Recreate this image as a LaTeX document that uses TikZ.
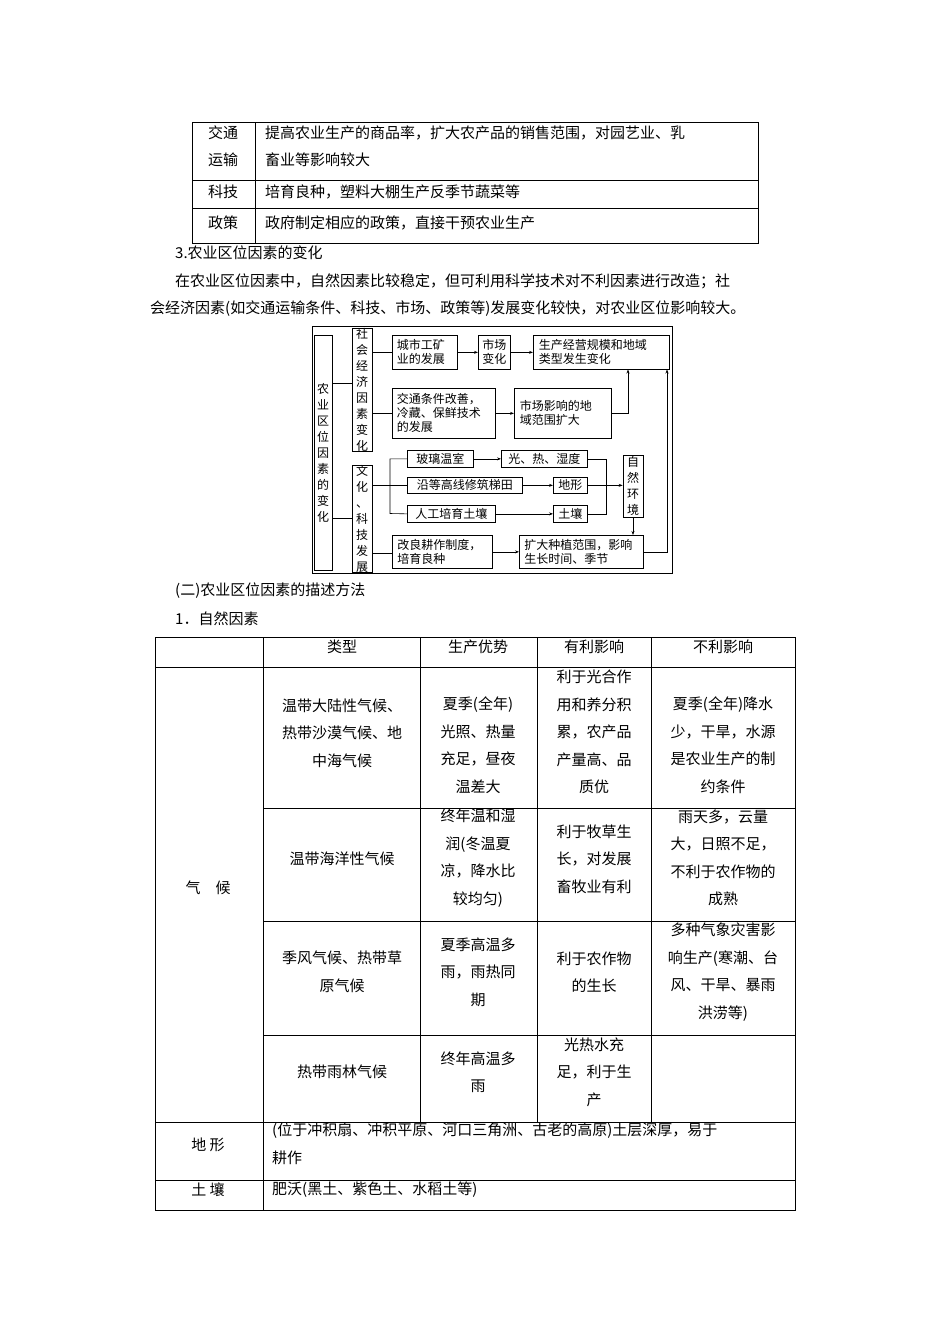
\documentclass[tikz,border=0pt]{standalone}
\usepackage{fontspec}
\setmainfont{Noto Sans CJK SC}
\usetikzlibrary{arrows.meta}
\begin{document}
\begin{tikzpicture}[x=1pt,y=-1pt,
  tl/.style={line width=0.8pt},
  txt/.style={font=\fontsize{15}{27.5}\selectfont, inner sep=0pt},
  cell/.style={txt, align=center},
  fb/.style={draw, line width=0.7pt, inner sep=0pt, font=\fontsize{12}{14}\selectfont, align=left},
  vb/.style={draw, line width=0.7pt, inner sep=0pt, font=\fontsize{12}{16}\selectfont, align=center},
  ar/.style={-{Stealth[length=4pt,width=3pt]}, line width=0.6pt},
  ln/.style={line width=0.6pt}]
\useasboundingbox (0,0) rectangle (950,1344);
% top table
\draw[tl] (192,122) rectangle (758,243);
\draw[tl] (255,122) -- (255,243);
\draw[tl] (192,180) -- (758,180);
\draw[tl] (192,208) -- (758,208);
\node[txt,anchor=west] (a1) at (208,133) {交通};
\node[txt,anchor=west] (a2) at (208,160) {运输};
\node[txt,anchor=west] (a3) at (265,133) {提高农业生产的商品率，扩大农产品的销售范围，对园艺业、乳};
\node[txt,anchor=west] (a4) at (265,160) {畜业等影响较大};
\node[txt,anchor=west] (a5) at (208,192) {科技};
\node[txt,anchor=west] (a6) at (265,192) {培育良种，塑料大棚生产反季节蔬菜等};
\node[txt,anchor=west] (a7) at (208,223) {政策};
\node[txt,anchor=west] (a8) at (265,223) {政府制定相应的政策，直接干预农业生产};
\node[txt,anchor=west] (h1) at (175,253) {3.农业区位因素的变化};
\node[txt,anchor=west] (p1) at (175,281) {在农业区位因素中，自然因素比较稳定，但可利用科学技术对不利因素进行改造；社};
\node[txt,anchor=west] (p2) at (150,309) {会经济因素(如交通运输条件、科技、市场、政策等)发展变化较快，对农业区位影响较大。};
% flowchart
\draw[line width=0.8pt] (312,326) rectangle (672,573);
\node[vb,minimum width=18pt,minimum height=235pt] (L) at (323,452.5) {农\\业\\区\\位\\因\\素\\的\\变\\化};
\node[vb,minimum width=20pt,minimum height=109pt] (S) at (362,389.5) {社\\会\\经\\济\\因\\素\\变\\化};
\node[vb,minimum width=20pt,minimum height=102pt] (W) at (362,519) {文\\化\\、\\科\\技\\发\\展};
\node[fb,minimum width=65pt,minimum height=34pt,anchor=north west,text width=56pt] (c1) at (392,335) {城市工矿\\业的发展};
\node[fb,minimum width=32pt,minimum height=34pt,anchor=north west,align=center] (c2) at (478,335) {市场\\变化};
\node[fb,minimum width=136pt,minimum height=34pt,anchor=north west,text width=125pt] (c3) at (533,335) {生产经营规模和地域\\类型发生变化};
\node[fb,minimum width=103pt,minimum height=50pt,anchor=north west,text width=94pt] (c4) at (392,388) {交通条件改善，\\冷藏、保鲜技术\\的发展};
\node[fb,minimum width=97pt,minimum height=50pt,anchor=north west,text width=86pt] (c5) at (514,388) {市场影响的地\\域范围扩大};
\node[fb,minimum width=66pt,minimum height=17pt,anchor=north west,align=center] (g1) at (407,450) {玻璃温室};
\node[fb,minimum width=86pt,minimum height=17pt,anchor=north west,align=center] (g2) at (501,450) {光、热、湿度};
\node[fb,minimum width=115pt,minimum height=16pt,anchor=north west,align=center] (g3) at (407,477) {沿等高线修筑梯田};
\node[fb,minimum width=34pt,minimum height=16pt,anchor=north west,align=center] (g4) at (553,477) {地形};
\node[fb,minimum width=88pt,minimum height=17pt,anchor=north west,align=center] (g5) at (407,505) {人工培育土壤};
\node[fb,minimum width=34pt,minimum height=17pt,anchor=north west,align=center] (g6) at (553,505) {土壤};
\node[vb,minimum width=20pt,minimum height=62pt] (N) at (633,486) {自\\然\\环\\境};
\node[fb,minimum width=100pt,minimum height=33pt,anchor=north west,text width=90pt] (c6) at (392,535) {改良耕作制度，\\培育良种};
\node[fb,minimum width=124pt,minimum height=33pt,anchor=north west,text width=114pt] (c7) at (519,535) {扩大种植范围，影响\\生长时间、季节};
\coordinate (j1) at (390,458);
\draw[ln] (L.east |- 0,383) -- (S.west |- 0,383);
\draw[ln] (L.east |- 0,518) -- (W.west |- 0,518);
\draw[ln] (S.east |- c1.west) -- (c1.west);
\draw[ln] (S.east |- 0,413) -- (c4.west |- 0,413);
\draw[ar] (c1) -- (c2);
\draw[ar] (c2) -- (c3);
\draw[ar] (c4.east |- c5.west) -- (c5.west);
\draw[ar] (c5.east) -| (628,369.5);
\draw[ln] (W.east |- g3.west) -- (g3.west);
\draw[ln] (g1.west) -| (390,513.5) -- (g5.west);
\draw[ar] (g1) -- (g2);
\draw[ar] (g3) -- (g4);
\draw[ar] (g5) -- (g6);
\draw[ln] (g2.east) -| (606,485) (g6.east) -| (606,485);
\draw[ar] (g4.east) -- (N.west |- g4.east);
\draw[ar] (N.south) -- (N.south |- c7.north);
\draw[ln] (W.east |- 0,553) -- (c6.west |- 0,553);
\draw[ar] (c6.east |- c7.west) -- (c7.west);
\draw[ar] (c7.east) -| (667,369.5);
% headings
\node[txt,anchor=west] (h2) at (175,591) {(二)农业区位因素的描述方法};
\node[txt,anchor=west] (h3) at (175,619) {1．自然因素};
% lower table
\draw[tl] (155,637) rectangle (795,1210);
\draw[tl] (263,637) -- (263,1210);
\foreach \x in {420,537,651} \draw[tl] (\x,637) -- (\x,1122);
\draw[tl] (155,667) -- (795,667);
\foreach \y in {808,921,1035} \draw[tl] (263,\y) -- (795,\y);
\draw[tl] (155,1122) -- (795,1122);
\draw[tl] (155,1180) -- (795,1180);
\node[cell] (t1) at (342,647) {类型};
\node[cell] (t2) at (478,647) {生产优势};
\node[cell] (t3) at (594,647) {有利影响};
\node[cell] (t4) at (723,647) {不利影响};
\node[cell] (r11) at (342,733) {温带大陆性气候、\\热带沙漠气候、地\\中海气候};
\node[cell] (r12) at (478,745) {夏季(全年)\\光照、热量\\充足，昼夜\\温差大};
\node[cell] (r13) at (594,732) {利于光合作\\用和养分积\\累，农产品\\产量高、品\\质优};
\node[cell] (r14) at (723,745) {夏季(全年)降水\\少，干旱，水源\\是农业生产的制\\约条件};
\node[cell] (r21) at (342,859) {温带海洋性气候};
\node[cell] (r22) at (478,858) {终年温和湿\\润(冬温夏\\凉，降水比\\较均匀)};
\node[cell] (r23) at (594,859) {利于牧草生\\长，对发展\\畜牧业有利};
\node[cell] (r24) at (723,858) {雨天多，云量\\大，日照不足，\\不利于农作物的\\成熟};
\node[cell] (r31) at (342,972) {季风气候、热带草\\原气候};
\node[cell] (r32) at (478,972) {夏季高温多\\雨，雨热同\\期};
\node[cell] (r33) at (594,972) {利于农作物\\的生长};
\node[cell] (r34) at (723,972) {多种气象灾害影\\响生产(寒潮、台\\风、干旱、暴雨\\洪涝等)};
\node[cell] (r41) at (342,1072) {热带雨林气候};
\node[cell] (r42) at (478,1072) {终年高温多\\雨};
\node[cell] (r43) at (594,1072) {光热水充\\足，利于生\\产};
\node[cell] (q) at (208,888) {气\quad 候};
\node[cell] (d1) at (208,1145) {地\ 形};
\node[txt,anchor=west] (d2) at (272,1131) {(位于冲积扇、冲积平原、河口三角洲、古老的高原)土层深厚，易于};
\node[txt,anchor=west] (d3) at (272,1158) {耕作};
\node[cell] (s1) at (208,1190) {土\ 壤};
\node[txt,anchor=west] (s2) at (272,1190) {肥沃(黑土、紫色土、水稻土等)};
\end{tikzpicture}
\end{document}
